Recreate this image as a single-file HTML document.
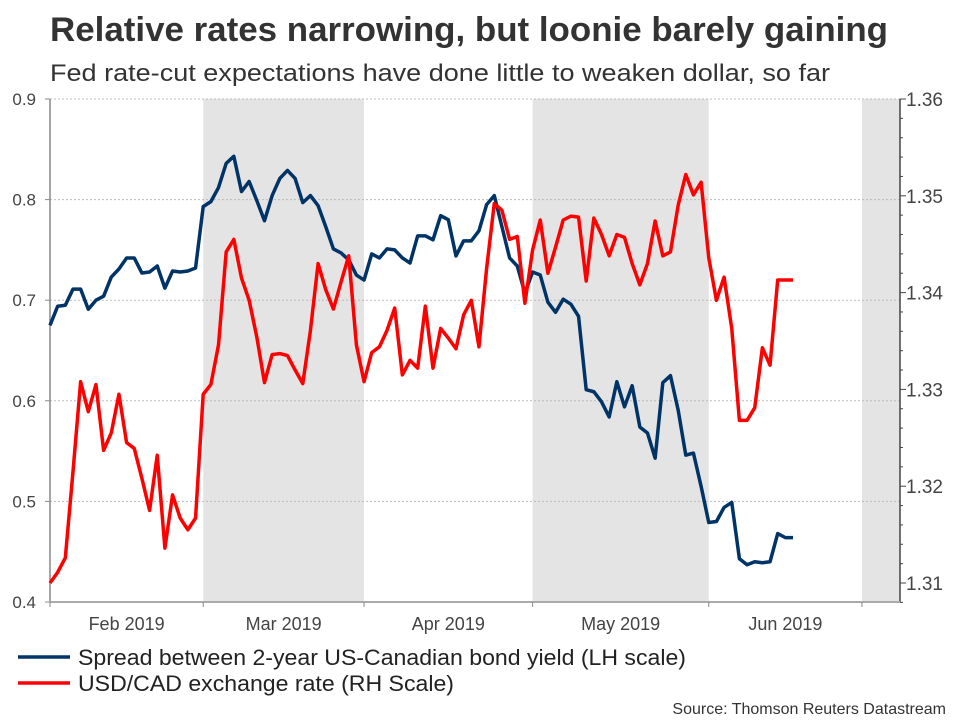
<!DOCTYPE html>
<html><head><meta charset="utf-8"><style>
body{margin:0;background:#fff;}
svg{display:block;font-family:"Liberation Sans",Arial,sans-serif;}
</style></head><body>
<svg id="chart" width="960" height="720" viewBox="0 0 960 720" xmlns="http://www.w3.org/2000/svg">
<text x="50" y="41" font-size="34" font-weight="bold" fill="#333" textLength="838" lengthAdjust="spacingAndGlyphs">Relative rates narrowing, but loonie barely gaining</text>
<text x="50" y="81" font-size="24" fill="#333" textLength="780" lengthAdjust="spacingAndGlyphs">Fed rate-cut expectations have done little to weaken dollar, so far</text>
<g id="bands"></g><g id="grid"></g><g id="axes"></g><g id="series"></g>
<g>
<line x1="18" y1="657" x2="70" y2="657" stroke="#003366" stroke-width="3.5"/>
<text x="78" y="665" font-size="22" fill="#222" textLength="608" lengthAdjust="spacingAndGlyphs">Spread between 2-year US-Canadian bond yield (LH scale)</text>
<line x1="18" y1="683" x2="70" y2="683" stroke="#ff0000" stroke-width="3.5"/>
<text x="78" y="691" font-size="22" fill="#222" textLength="376" lengthAdjust="spacingAndGlyphs">USD/CAD exchange rate (RH Scale)</text>
</g>
<text x="946" y="714" font-size="16" fill="#333" text-anchor="end">Source: Thomson Reuters Datastream</text>
</svg>
<script>
const monthLabels=["Feb 2019","Mar 2019","Apr 2019","May 2019","Jun 2019"];
const monthStarts=[0,20,41,63,86,106];
const leftTicks=[0.4,0.5,0.6,0.7,0.8,0.9];
const rightTicks=[1.31,1.32,1.33,1.34,1.35,1.36];
const spread=[0.675,0.694,0.695,0.711,0.711,0.691,0.700,0.704,0.723,0.731,0.742,0.742,0.727,0.728,0.734,0.712,0.729,0.728,0.729,0.732,0.793,0.798,0.812,0.836,0.843,0.808,0.818,0.799,0.779,0.804,0.821,0.829,0.821,0.797,0.804,0.794,0.773,0.751,0.747,0.740,0.725,0.720,0.746,0.742,0.751,0.750,0.742,0.737,0.764,0.764,0.760,0.784,0.780,0.744,0.759,0.759,0.769,0.795,0.804,0.773,0.742,0.734,0.707,0.728,0.725,0.698,0.688,0.701,0.696,0.684,0.611,0.609,0.599,0.584,0.619,0.594,0.615,0.574,0.568,0.543,0.618,0.625,0.591,0.546,0.548,0.515,0.479,0.480,0.494,0.499,0.443,0.437,0.440,0.439,0.440,0.468,0.464,0.464];
const usdcad=[1.310,1.3111,1.3126,1.3215,1.3308,1.3277,1.3305,1.3237,1.3255,1.3295,1.3245,1.3239,1.3208,1.3175,1.3232,1.3136,1.3191,1.3167,1.3155,1.3167,1.3295,1.3305,1.3346,1.3442,1.3455,1.3415,1.3392,1.3354,1.3307,1.3336,1.3337,1.3335,1.3320,1.3306,1.3361,1.3430,1.3403,1.3383,1.3411,1.3438,1.3346,1.3308,1.3338,1.3344,1.3361,1.3384,1.3315,1.3330,1.3322,1.3386,1.3322,1.3363,1.3353,1.3342,1.3377,1.3392,1.3344,1.3425,1.3492,1.3485,1.3455,1.3458,1.3389,1.3444,1.3475,1.3420,1.3447,1.3475,1.3479,1.3478,1.3412,1.3477,1.3460,1.3438,1.3460,1.3457,1.3430,1.3408,1.3430,1.3474,1.3438,1.3442,1.3490,1.3522,1.3501,1.3514,1.3436,1.3392,1.3416,1.3363,1.3268,1.3268,1.3281,1.3343,1.3325,1.3413,1.3413,1.3413];

const NS="http://www.w3.org/2000/svg";
const X0=50,X1=900,Y0=99,YB=602,STEP=7.66;
function xs(i){return X0+i*STEP;}
function yl(v){return Y0+(0.9-v)*1006;}
function yr(v){return Y0+(1.36-v)*9680;}
function mk(tag,attrs,parent){const e=document.createElementNS(NS,tag);for(const k in attrs)e.setAttribute(k,attrs[k]);document.getElementById(parent).appendChild(e);return e;}

for(let m=1;m<monthStarts.length;m+=2){
  const a=xs(monthStarts[m]);
  const b=m+1<monthStarts.length?xs(monthStarts[m+1]):X1;
  const r=mk('rect',{x:a,y:Y0,width:Math.min(b,X1)-a,height:YB-Y0,fill:'#e4e4e4'},'bands');
  
  
}
leftTicks.forEach(v=>{
  const y=yl(v);
  if(v>0.4){const g=mk('line',{x1:X0,x2:X1,y1:y,y2:y,stroke:'#bbb','stroke-dasharray':'2,2'},'grid');
  
  }
  mk('line',{x1:X0-5,x2:X0,y1:y,y2:y,stroke:'#888'},'axes');
  const t=mk('text',{x:X0-14,y:y+6,'font-size':17,fill:'#444','text-anchor':'end'},'axes');
  t.textContent=v.toFixed(1);
  
  
});
const la=mk('line',{x1:X0,x2:X0,y1:Y0,y2:YB,stroke:'#888','stroke-width':1.5},'axes');


const ra=mk('line',{x1:X1,x2:X1,y1:Y0,y2:YB,stroke:'#444','stroke-width':1.5},'axes');


const xa=mk('line',{x1:X0,x2:X1,y1:YB,y2:YB,stroke:'#aaa','stroke-width':2},'axes');


for(let k=0;k<=26;k++){
  const v=1.308+k*0.002;const y=yr(v);
  const major=Math.abs((v*100)-Math.round(v*100))<1e-6;
  mk('line',{x1:X1,x2:X1+(major?6:3),y1:y,y2:y,stroke:'#444'},'axes');
}
rightTicks.forEach(v=>{
  const t=mk('text',{x:X1+6,y:yr(v)+7,'font-size':19,fill:'#444'},'axes');
  t.textContent=v.toFixed(2);
  
  
});
monthStarts.forEach(i=>{mk('line',{x1:xs(i),x2:xs(i),y1:YB,y2:YB+5,stroke:'#888'},'axes');});
monthLabels.forEach((l,m)=>{
  const cx=(xs(monthStarts[m])+xs(monthStarts[m+1]))/2;
  const t=mk('text',{x:cx,y:630,'font-size':18,fill:'#444','text-anchor':'middle'},'axes');
  t.textContent=l;
  
  
});
const p1=mk('polyline',{points:spread.map((v,i)=>xs(i)+','+yl(v)).join(' '),fill:'none',stroke:'#003366','stroke-width':3.5,'stroke-linejoin':'round'},'series');


const p2=mk('polyline',{points:usdcad.map((v,i)=>xs(i)+','+yr(v)).join(' '),fill:'none',stroke:'#ff0000','stroke-width':3.5,'stroke-linejoin':'round'},'series');


</script>
</body></html>
